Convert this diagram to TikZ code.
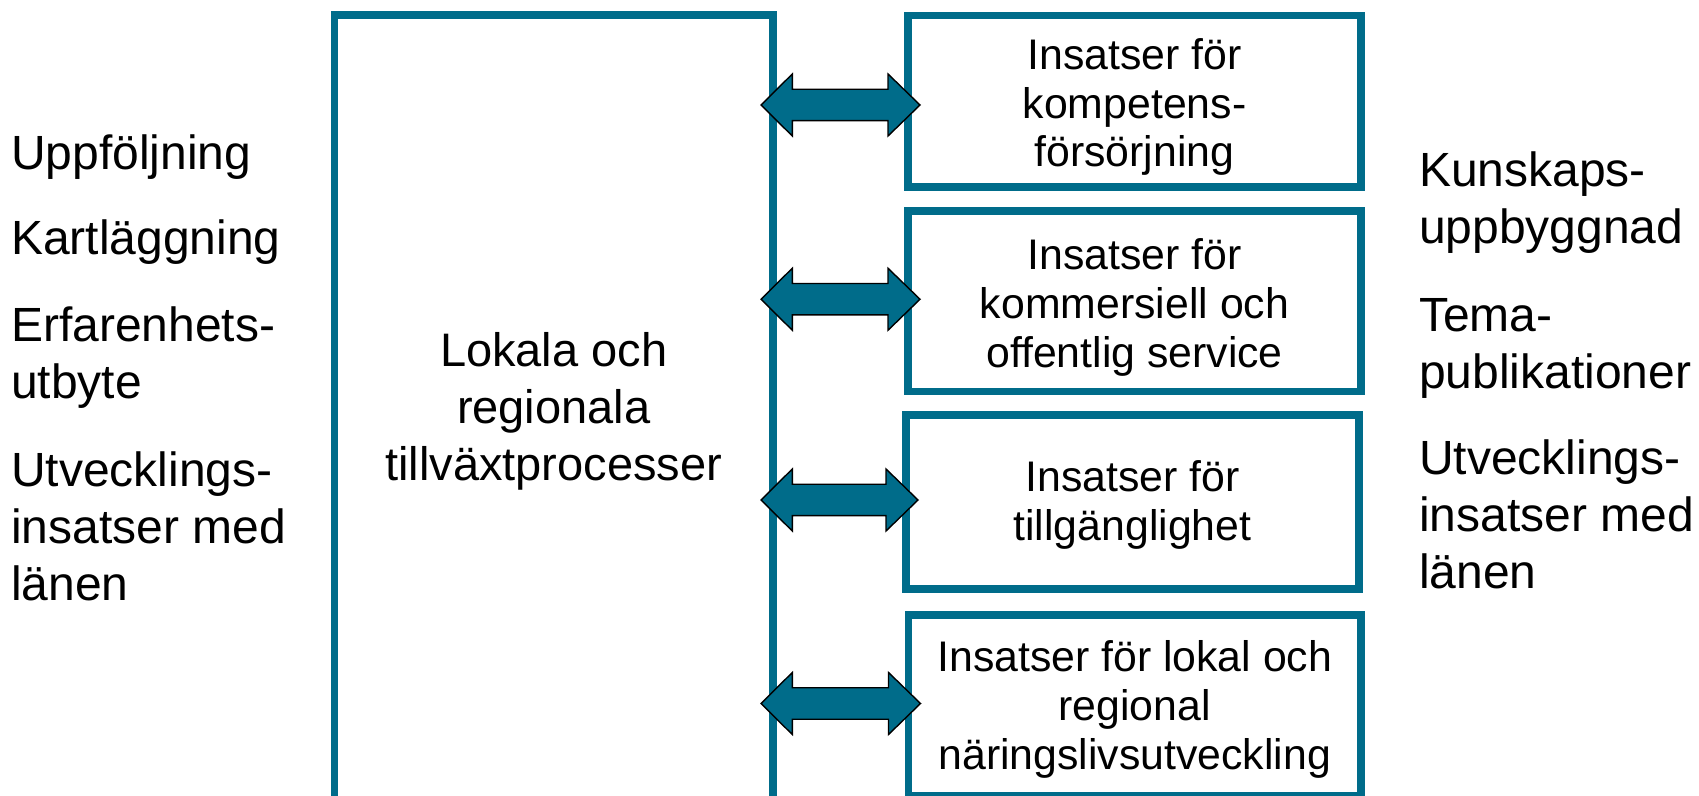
\documentclass[tikz,border=0pt]{standalone}
\usepackage{fontspec}
\setmainfont{Liberation Sans}
\usetikzlibrary{calc}
\definecolor{teal}{RGB}{0,108,138}
\tikzset{
  frame/.style={draw=teal, line width=3.8pt, inner sep=0pt, outer sep=0pt, fill=none},
  bigtxt/.style={font=\fontsize{23.5pt}{28.35pt}\selectfont, inner sep=0pt, outer sep=0pt},
  boxtxt/.style={font=\fontsize{21.4pt}{24.4pt}\selectfont, inner sep=0pt, outer sep=0pt, align=center, anchor=base},
  sidetxt/.style={font=\fontsize{24pt}{28.3pt}\selectfont, inner sep=0pt, outer sep=0pt, align=left, anchor=base west},
  blkarrow/.style={fill=teal, draw=black, line width=0.7pt, line join=miter}
}
\newcommand\dblarrow[3]{%
  \draw[blkarrow] let \p1=($(#1.east |- #2.west)+(-12,#3)$), \p2=($(#2.west)+(12,#3)$) in
    (\p1) -- (\x1+15.65pt,\y1+15.5pt) -- (\x1+15.65pt,\y1+7.85pt) -- (\x2-16pt,\y1+7.85pt)
    -- (\x2-16pt,\y1+15.5pt) -- (\p2) -- (\x2-16pt,\y1-15.5pt) -- (\x2-16pt,\y1-7.85pt)
    -- (\x1+15.65pt,\y1-7.85pt) -- (\x1+15.65pt,\y1-15.5pt) -- cycle;
}
\begin{document}
\begin{tikzpicture}[x=0.5pt, y=-0.5pt]
\useasboundingbox (0,0) rectangle (1699,796);
\fill[white] (0,0) rectangle (1699,796);
\clip (0,0) rectangle (1699,796);

% big box
\node[frame, minimum width=219.25pt, minimum height=397.5pt] (big) at (553.75,412.5) {};
% multi-line nodes: base anchor = baseline of the last line
\node[bigtxt, align=center, anchor=base] (bigt) at (553.75,480.4) {Lokala och\\regionala\\tillväxtprocesser};

% right boxes
\node[frame, minimum width=226.5pt, minimum height=85.75pt] (b1) at (1134.5,101.25) {};
\node[frame, minimum width=226.5pt, minimum height=90.25pt] (b2) at (1134.5,301.25) {};
\node[frame, minimum width=226.5pt, minimum height=87pt] (b3) at (1132.5,502) {};
\node[frame, minimum width=226.25pt, minimum height=90.5pt] (b4) at (1134.75,705.5) {};

\node[boxtxt] (t1) at (1134.5,166.9) {Insatser för\\kompetens-\\försörjning};
\node[boxtxt] (t2) at (1134.5,367.6) {Insatser för\\kommersiell och\\offentlig service};
\node[boxtxt] (t3) at (1132.5,540.8) {Insatser för\\tillgänglighet};
\node[boxtxt] (t4) at (1134.75,769.6) {Insatser för lokal och\\regional\\näringslivsutveckling};

% arrows
\dblarrow{big}{b1}{3.75}
\dblarrow{big}{b2}{-2}
\dblarrow{big}{b3}{-2}
\dblarrow{big}{b4}{-2}

% left texts
\node[sidetxt] (l1) at (11,169.3) {Uppföljning};
\node[sidetxt] (l2) at (11,255) {Kartläggning};
\node[sidetxt] (l3) at (11,398.3) {Erfarenhets-\\utbyte};
\node[sidetxt] (l4) at (11,600.1) {Utvecklings-\\insatser med\\länen};

% right texts
\node[sidetxt] (r1) at (1419,243.6) {Kunskaps-\\uppbyggnad};
\node[sidetxt] (r2) at (1419,388.3) {Tema-\\publikationer};
\node[sidetxt] (r3) at (1419,588.2) {Utvecklings-\\insatser med\\länen};
\end{tikzpicture}
\end{document}
